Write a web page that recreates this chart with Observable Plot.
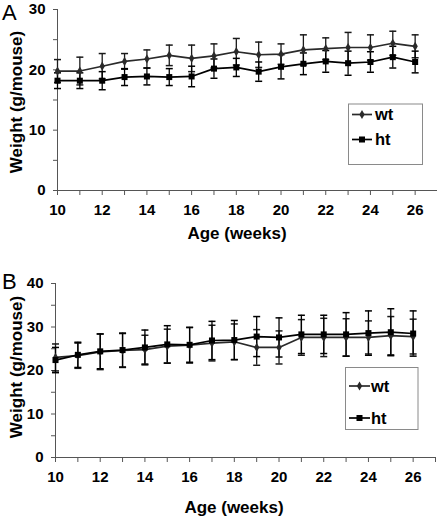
<!DOCTYPE html>
<html>
<head>
<meta charset="utf-8">
<script src="https://cdn.jsdelivr.net/npm/d3@7"></script>
<script src="https://cdn.jsdelivr.net/npm/@observablehq/plot@0.6"></script>
<style>
  html, body { margin: 0; padding: 0; background: #fff; }
  #wrap { position: relative; width: 437px; height: 516px; overflow: hidden; font-family: "Liberation Sans", Arial, sans-serif; }
  #wrap svg.plotpanel { display: block; }
  #overlay { position: absolute; left: 0; top: 0; pointer-events: none; }
</style>
</head>
<body>
<div id="wrap"></div>
<script>
// ---- data ----
const weeks = [10, 11, 12, 13, 14, 15, 16, 17, 18, 19, 20, 21, 22, 23, 24, 25, 26];

// Panel A
const aWt    = [19.8, 19.8, 20.6, 21.4, 21.8, 22.4, 21.9, 22.3, 23.0, 22.5, 22.6, 23.3, 23.5, 23.7, 23.7, 24.4, 23.9];
const aWtErr = [1.9, 2.3, 2.1, 1.3, 1.5, 1.7, 2.2, 2.0, 2.2, 2.1, 1.7, 2.5, 1.8, 2.5, 2.1, 2.0, 1.9];
const aHt    = [18.2, 18.2, 18.2, 18.8, 18.9, 18.8, 18.9, 20.2, 20.4, 19.7, 20.5, 21.0, 21.4, 21.1, 21.3, 22.1, 21.3];
const aHtErr = [1.3, 1.3, 1.5, 1.4, 1.4, 1.4, 1.7, 1.6, 1.5, 1.6, 2.0, 1.8, 1.8, 2.0, 1.7, 1.8, 1.8];

// Panel B
const bWt    = [23.0, 23.4, 24.3, 24.6, 24.8, 25.6, 25.8, 26.3, 26.6, 25.3, 25.3, 27.6, 27.6, 27.6, 27.6, 28.0, 27.8];
const bWtErr = [3.1, 2.9, 4.1, 3.9, 3.3, 3.9, 4.1, 4.1, 4.1, 4.1, 3.8, 4.1, 4.4, 4.3, 3.8, 4.4, 4.0];
const bHt    = [22.4, 23.6, 24.4, 24.7, 25.3, 26.0, 25.9, 26.9, 27.0, 27.8, 27.6, 28.3, 28.3, 28.3, 28.6, 28.8, 28.5];
const bHtErr = [2.9, 2.9, 4.0, 3.9, 4.0, 4.3, 4.0, 4.4, 4.5, 4.6, 4.5, 4.4, 4.4, 5.0, 5.1, 5.4, 5.2];

// ticks / labels
const xTicks = [10, 11, 12, 13, 14, 15, 16, 17, 18, 19, 20, 21, 22, 23, 24, 25, 26, 27];
const xTickLabels = [10, 12, 14, 16, 18, 20, 22, 24, 26];
const yTicksA = [0, 5, 10, 15, 20, 25, 30];
const yLabelsA = [0, 10, 20, 30];
const yTicksB = [0, 5, 10, 15, 20, 25, 30, 35, 40];
const yLabelsB = [0, 10, 20, 30, 40];
const seriesNames = ["wt", "ht"];
const xTitle = "Age (weeks)";
const yTitle = "Weight (g/mouse)";
const panelLetters = ["A", "B"];

// ---- helpers ----
const capSymbol = { draw(ctx, size) { ctx.moveTo(-3.5, 0); ctx.lineTo(3.5, 0); } };
const rows = (vals, errs, name) => weeks.map((w, i) => ({ week: w, v: vals[i], e: errs[i], s: name }));
const FONT = '"Liberation Sans", Arial, sans-serif';

function panel({ wt, ht, yDomain, yTicks, yLabels, margins }) {
  const dWt = rows(wt.v, wt.e, "wt");
  const dHt = rows(ht.v, ht.e, "ht");
  const errMarks = (data, col) => [
    Plot.ruleX(data, { x: "week", y1: d => d.v - d.e, y2: d => d.v + d.e, stroke: col, strokeWidth: 1.3 }),
    Plot.dot(data, { x: "week", y: d => d.v + d.e, symbol: capSymbol, stroke: col, strokeWidth: 1.5, fill: "none", r: 3 }),
    Plot.dot(data, { x: "week", y: d => d.v - d.e, symbol: capSymbol, stroke: col, strokeWidth: 1.5, fill: "none", r: 3 })
  ];
  return Plot.plot({
    width: 437,
    height: 258,
    marginLeft: margins.left,
    marginRight: margins.right,
    marginTop: margins.top,
    marginBottom: margins.bottom,
    style: { fontFamily: FONT, fontSize: "15px", fontWeight: "bold", color: "#000", background: "#fff" },
    x: { domain: [10, 27] },
    y: { domain: yDomain },
    marks: [
      Plot.axisX({ ticks: xTicks, tickSize: 5, tickPadding: 9, stroke: "#555",
        tickFormat: d => xTickLabels.includes(d) ? String(d) : "", label: null }),
      Plot.axisY({ ticks: yTicks, tickSize: 4, tickPadding: 8, stroke: "#555",
        tickFormat: d => yLabels.includes(d) ? String(d) : "", label: null }),
      Plot.ruleY([yDomain[0]], { stroke: "#555", strokeWidth: 1 }),
      Plot.ruleX([10], { stroke: "#555", strokeWidth: 1 }),
      ...errMarks(dWt, "#1a1a1a"),
      ...errMarks(dHt, "#000"),
      Plot.line(dWt, { x: "week", y: "v", stroke: "#2a2a2a", strokeWidth: 1.7 }),
      Plot.line(dHt, { x: "week", y: "v", stroke: "#000", strokeWidth: 1.7 }),
      Plot.dot(dWt, { x: "week", y: "v", symbol: "diamond", r: 2.8, fill: "#2a2a2a", stroke: "none" }),
      Plot.dot(dHt, { x: "week", y: "v", symbol: "square", r: 3.4, fill: "#000", stroke: "none" })
    ]
  });
}

const wrap = document.getElementById("wrap");
const pA = panel({
  wt: { v: aWt, e: aWtErr }, ht: { v: aHt, e: aHtErr },
  yDomain: [0, 30], yTicks: yTicksA, yLabels: yLabelsA,
  margins: { left: 57, right: 0, top: 9, bottom: 68 }
});
const pB = panel({
  wt: { v: bWt, e: bWtErr }, ht: { v: bHt, e: bHtErr },
  yDomain: [0, 40], yTicks: yTicksB, yLabels: yLabelsB,
  margins: { left: 55, right: 2, top: 25, bottom: 59 }
});
pA.classList.add("plotpanel");
pB.classList.add("plotpanel");
wrap.appendChild(pA);
wrap.appendChild(pB);

// ---- overlay: panel letters, axis titles, legends ----
const ns = "http://www.w3.org/2000/svg";
const ov = d3.select(wrap).append("svg").attr("id", "overlay")
  .attr("width", 437).attr("height", 516)
  .style("font-family", FONT);

function titles(letter, letterY, yTitleCenter, xTitleX, xTitleY) {
  ov.append("text").attr("x", 2).attr("y", letterY).attr("font-size", 22)
    .attr("font-weight", "normal").attr("fill", "#000").text(letter);
  ov.append("text").attr("transform", `translate(22,${yTitleCenter}) rotate(-90)`)
    .attr("text-anchor", "middle").attr("font-size", 17).attr("font-weight", "bold").text(yTitle);
  ov.append("text").attr("x", xTitleX).attr("y", xTitleY).attr("text-anchor", "middle")
    .attr("font-size", 17).attr("font-weight", "bold").text(xTitle);
}
titles(panelLetters[0], 20, 102, 237, 238.5);
titles(panelLetters[1], 288.5, 367, 234, 513);

function legend(box, rowY, lineX0, lineX1, textX) {
  ov.append("rect").attr("x", box.x).attr("y", box.y).attr("width", box.w).attr("height", box.h)
    .attr("fill", "#fff").attr("stroke", "#8a8a8a").attr("stroke-width", 1);
  const mid = (lineX0 + lineX1) / 2;
  seriesNames.forEach((name, i) => {
    const y = rowY[i];
    ov.append("line").attr("x1", lineX0).attr("x2", lineX1).attr("y1", y).attr("y2", y)
      .attr("stroke", i === 0 ? "#2a2a2a" : "#000").attr("stroke-width", 1.7);
    if (i === 0) {
      ov.append("path").attr("d", d3.symbol(d3.symbolDiamond, 2.8 * 2.8 * Math.PI)())
        .attr("transform", `translate(${mid},${y})`).attr("fill", "#2a2a2a");
    } else {
      ov.append("path").attr("d", d3.symbol(d3.symbolSquare, 3.4 * 3.4 * Math.PI)())
        .attr("transform", `translate(${mid},${y})`).attr("fill", "#000");
    }
    ov.append("text").attr("x", textX).attr("y", y + 5.5).attr("font-size", 16.5)
      .attr("font-weight", "bold").text(name);
  });
}
legend({ x: 348.5, y: 104, w: 74, h: 60.5 }, [114.5, 139.5], 352, 372, 375);
legend({ x: 345.5, y: 367.5, w: 72.5, h: 62 }, [386, 418], 349, 370, 371);
</script>
</body>
</html>
